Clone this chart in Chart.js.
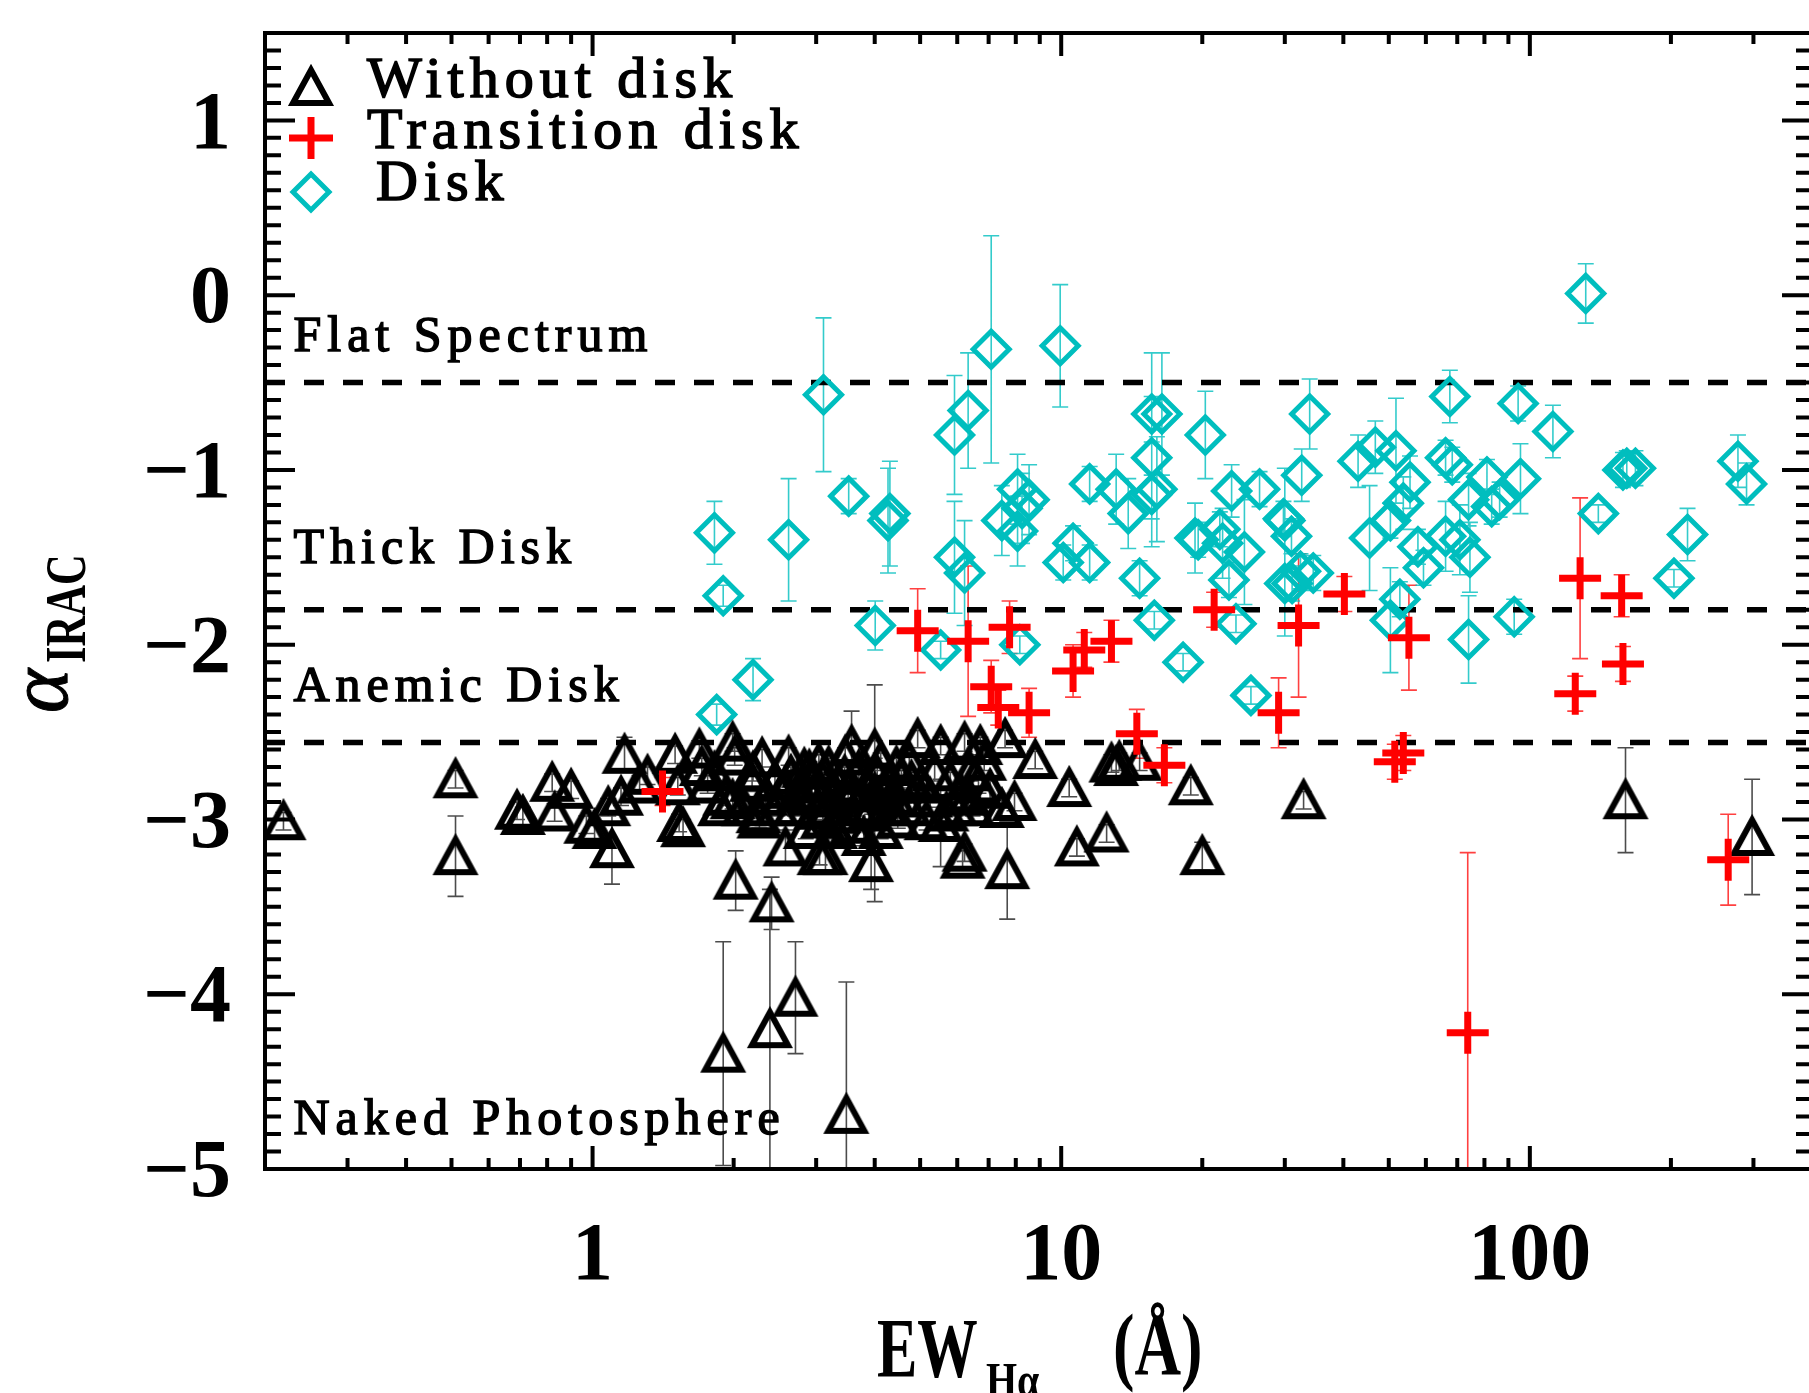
<!DOCTYPE html>
<html>
<head>
<meta charset="utf-8">
<title>alpha IRAC vs EW Halpha</title>
<script src="https://cdn.jsdelivr.net/npm/chart.js@4.4.1/dist/chart.umd.min.js"></script>
<style>
  html, body { margin: 0; padding: 0; background: #fff; }
  #wrap { width: 1809px; height: 1393px; overflow: hidden; position: relative; }
  canvas { display: block; }
</style>
</head>
<body>
<div id="wrap"><canvas id="chart" width="1840" height="1393" style="width:1840px;height:1393px"></canvas></div>
<script>
// Axis ranges and ticks
const xMin = 0.2, xMax = 400;
const yMin = -5, yMax = 1.5;
const xTickValues = [1, 10, 100];
const yTickValues = [-5, -4, -3, -2, -1, 0, 1];

// Class boundaries (alpha_IRAC) and their labels
const classBounds = [-0.5, -1.8, -2.56];
const classNames = ['Flat Spectrum', 'Thick Disk', 'Anemic Disk', 'Naked Photosphere'];
const classNameAlpha = [-0.32, -1.53, -2.32, -4.80];

// Without disk (triangles)
const noDiskEW = [0.219, 0.51, 0.51, 0.69, 0.71, 0.82, 0.90, 0.83, 0.97, 1.01,
  1.10, 1.08, 1.15, 1.17, 1.26, 1.31, 1.53, 1.56, 1.50, 1.52,
  1.69, 1.71, 1.76, 1.82, 1.87, 1.92, 1.99, 2.01, 1.99, 2.02,
  2.10, 2.19, 2.20, 2.26, 2.27, 2.34, 2.41, 1.90, 2.39, 2.71,
  3.48, 2.48, 2.62, 2.58, 2.58, 2.70, 2.83, 2.85, 2.94, 2.94,
  3.04, 3.05, 3.10, 3.14, 3.19, 3.19, 3.29, 3.34, 3.46, 3.51,
  3.57, 3.58, 3.68, 3.79, 3.89, 3.93, 4.00, 4.00, 4.12, 4.12,
  4.24, 4.38, 4.48, 4.56, 4.74, 4.74, 4.79, 4.94, 5.02, 5.16,
  5.25, 5.37, 5.53, 5.53, 5.69, 5.95, 6.16, 6.22, 6.33, 6.22,
  6.40, 6.47, 6.66, 6.72, 6.85, 7.05, 7.47, 7.59, 7.67, 7.95,
  8.80, 10.4, 10.8, 12.5, 12.8, 13.1, 13.3, 14.7, 18.9, 20.0,
  32.9, 160, 298,
  2.65, 2.75, 2.90, 3.00, 3.10, 3.25, 3.35, 3.45, 3.60, 3.70,
  3.85, 3.95, 4.05, 4.30, 4.45, 2.30, 2.45, 5.80, 6.10];
const noDiskAlpha = [-3.01, -2.77, -3.21, -2.95, -2.98, -2.79, -2.83, -2.96, -3.03, -3.06,
  -3.17, -2.93, -2.87, -2.63, -2.80, -2.75, -3.02, -3.05, -2.63, -2.81,
  -2.60, -2.70, -2.80, -2.73, -2.93, -2.87, -2.56, -2.64, -2.89, -3.35,
  -2.93, -2.79, -2.73, -2.97, -3.00, -2.87, -3.48, -4.34, -4.20, -4.02,
  -4.69, -2.93, -2.64, -2.83, -3.16, -2.93, -2.71, -3.06, -2.87, -2.80,
  -2.68, -3.21, -3.00, -3.21, -2.93, -2.70, -3.06, -2.80, -2.64, -2.83,
  -2.58, -3.03, -2.93, -3.10, -2.96, -3.25, -2.60, -2.85, -2.67, -3.06,
  -2.93, -2.87, -3.00, -2.77, -2.67, -2.93, -2.78, -2.54, -2.80, -3.01,
  -2.88, -2.73, -2.58, -3.02, -2.96, -2.93, -3.23, -2.56, -2.87, -3.19,
  -2.73, -2.93, -2.80, -2.58, -2.67, -2.83, -2.94, -2.54, -3.29, -2.90,
  -2.66, -2.82, -3.16, -3.08, -2.68, -2.70, -2.67, -2.67, -2.81, -3.21,
  -2.89, -2.89, -3.10,
  -2.75, -2.85, -2.72, -2.95, -2.78, -2.88, -2.97, -2.75, -2.85, -2.72,
  -2.82, -2.92, -2.75, -2.80, -2.70, -2.65, -2.78, -2.78, -2.85];
const noDiskErr = [0.05, 0.05, 0.23, 0.05, 0.05, 0.05, 0.05, 0.05, 0.05, 0.05,
  0.20, 0.05, 0.05, 0.10, 0.05, 0.05, 0.05, 0.05, 0.05, 0.05,
  0.05, 0.05, 0.05, 0.05, 0.05, 0.05, 0.05, 0.05, 0.05, 0.17,
  0.05, 0.05, 0.05, 0.05, 0.05, 0.05, 0.15, 0.64, 0.80, 0.32,
  0.76, 0.05, 0.05, 0.05, 0.10, 0.05, 0.05, 0.05, 0.05, 0.05,
  0.05, 0.05, 0.05, 0.10, 0.05, 0.05, 0.05, 0.05, 0.05, 0.05,
  0.20, 0.05, 0.05, 0.05, 0.05, 0.15, 0.05, 0.62, 0.05, 0.05,
  0.05, 0.05, 0.05, 0.05, 0.05, 0.05, 0.05, 0.05, 0.05, 0.05,
  0.05, 0.05, 0.05, 0.25, 0.05, 0.05, 0.05, 0.05, 0.05, 0.05,
  0.05, 0.05, 0.05, 0.05, 0.05, 0.05, 0.05, 0.05, 0.28, 0.05,
  0.05, 0.05, 0.05, 0.05, 0.05, 0.05, 0.05, 0.05, 0.05, 0.08,
  0.05, 0.30, 0.33,
  0.05, 0.05, 0.05, 0.05, 0.05, 0.05, 0.05, 0.05, 0.05, 0.05,
  0.05, 0.05, 0.05, 0.05, 0.05, 0.05, 0.05, 0.05, 0.05];

// Transition disk (red crosses)
const transEW = [1.41, 4.94, 6.33, 7.76, 7.09, 7.34, 8.54, 10.6, 11.2, 12.8,
  21.2, 14.5, 16.6, 29.1, 32.1, 40.2, 55.2, 51.5, 53.7, 73.7,
  128, 157, 125, 158, 265];
const transAlpha = [-2.84, -1.92, -1.98, -1.90, -2.24, -2.36, -2.39, -2.15, -2.03, -1.98,
  -1.80, -2.51, -2.69, -2.39, -1.89, -1.71, -1.96, -2.67, -2.62, -4.22,
  -1.62, -1.72, -2.28, -2.11, -3.23];
const transErr = [0.08, 0.24, 0.43, 0.15, 0.15, 0.10, 0.14, 0.15, 0.10, 0.12,
  0.10, 0.14, 0.10, 0.20, 0.41, 0.10, 0.30, 0.10, 0.10, 1.03,
  0.46, 0.12, 0.10, 0.10, 0.26];

// Disk (cyan diamonds)
const diskEW = [1.82, 1.90, 1.84, 2.20, 2.62, 3.11, 3.52, 4.01, 4.31, 4.27,
  5.53, 5.92, 5.92, 6.33, 6.22, 7.09, 7.47, 8.07, 8.54, 8.25,
  8.07, 8.16, 9.95, 10.1, 10.6, 11.5, 11.5, 13.1, 13.9, 14.7,
  15.6, 16.4, 15.6, 15.6, 16.0, 15.8, 18.2, 20.3, 19.3, 22.1,
  23.1, 24.6, 22.8, 23.6, 26.5, 30.0, 30.0, 25.4, 21.8, 19.6,
  31.0, 29.8, 32.6, 33.9, 31.1, 34.5, 32.4, 43.0, 46.8, 51.8,
  55.5, 53.7, 50.4, 45.5, 57.7, 59.3, 50.4, 52.8, 66.1, 68.3,
  67.5, 74.0, 66.1, 70.9, 74.5, 74.0, 81.0, 86.2, 82.9, 95.5,
  94.4, 92.6, 112, 131.6, 140, 158, 161, 168, 203, 217,
  278, 290];
const diskAlpha = [-1.36, -1.72, -2.40, -2.20, -1.40, -0.57, -1.15, -1.89, -1.25, -1.29,
  -2.03, -0.80, -1.50, -0.66, -1.59, -0.31, -1.29, -1.11, -1.17, -1.22,
  -1.35, -2.00, -0.29, -1.53, -1.42, -1.53, -1.08, -1.11, -1.25, -1.62,
  -0.68, -0.68, -0.93, -1.14, -1.11, -1.86, -2.10, -0.80, -1.39, -1.42,
  -1.12, -1.47, -1.63, -1.88, -1.11, -1.29, -1.65, -2.29, -1.34, -1.40,
  -1.38, -1.28, -1.03, -0.68, -1.65, -1.59, -1.58, -0.95, -0.87, -0.89,
  -1.07, -1.19, -1.29, -1.39, -1.44, -1.56, -1.86, -1.74, -0.93, -0.97,
  -0.58, -1.17, -1.38, -1.40, -1.50, -1.97, -1.04, -1.17, -1.21, -1.05,
  -0.62, -1.84, -0.78, 0.01, -1.25, -1.00, -0.99, -0.99, -1.62, -1.37,
  -0.95, -1.08];
const diskErr = [0.18, 0.06, 0.06, 0.12, 0.35, 0.44, 0.10, 0.14, 0.30, 0.30,
  0.05, 0.34, 0.32, 0.33, 0.30, 0.65, 0.20, 0.20, 0.20, 0.20,
  0.20, 0.05, 0.35, 0.10, 0.10, 0.10, 0.10, 0.20, 0.20, 0.10,
  0.35, 0.35, 0.35, 0.30, 0.30, 0.05, 0.05, 0.25, 0.20, 0.20,
  0.15, 0.30, 0.10, 0.05, 0.10, 0.30, 0.30, 0.05, 0.10, 0.10,
  0.10, 0.10, 0.15, 0.20, 0.10, 0.10, 0.10, 0.15, 0.15, 0.30,
  0.15, 0.15, 0.10, 0.30, 0.10, 0.10, 0.30, 0.10, 0.10, 0.10,
  0.15, 0.15, 0.20, 0.20, 0.20, 0.25, 0.10, 0.10, 0.10, 0.20,
  0.10, 0.10, 0.15, 0.17, 0.05, 0.10, 0.10, 0.10, 0.05, 0.15,
  0.15, 0.12];

const CYAN = '#00bebe';
const RED = '#ff0000';
const SERIF = "'Liberation Serif', 'DejaVu Serif', serif";

function toPoints(xs, ys) {
    return xs.map((x, i) => ({ x: x, y: ys[i] }));
}

// IDL-like triangle: width equal to height, centred on the data point
function makeTriangle() {
    const c = document.createElement('canvas');
    c.width = 48; c.height = 48;
    const g = c.getContext('2d');
    g.strokeStyle = '#000';
    g.lineWidth = 6;
    g.lineJoin = 'miter';
    g.beginPath();
    g.moveTo(24, 7);
    g.lineTo(42, 40);
    g.lineTo(6, 40);
    g.closePath();
    g.stroke();
    return c;
}
const triangleImg = makeTriangle();

function drawText(ctx, str, x, y, font, spacing, sx, stroke) {
    ctx.save();
    ctx.font = font;
    ctx.fillStyle = '#000';
    ctx.strokeStyle = '#000';
    ctx.letterSpacing = (spacing || 0) + 'px';
    ctx.textBaseline = 'alphabetic';
    ctx.translate(x, y);
    ctx.scale(sx || 1, 1);
    ctx.fillText(str, 0, 0);
    if (stroke) {
        ctx.lineWidth = stroke;
        ctx.strokeText(str, 0, 0);
    }
    ctx.restore();
}

// Error bars drawn under the symbols
const errorBars = {
    id: 'errorBars',
    beforeDatasetsDraw(chart) {
        const ctx = chart.ctx;
        const xs = chart.scales.x, ys = chart.scales.y;
        const ca = chart.chartArea;
        ctx.save();
        ctx.beginPath();
        ctx.rect(ca.left, ca.top, ca.right - ca.left, ca.bottom - ca.top);
        ctx.clip();
        chart.data.datasets.forEach(ds => {
            if (!ds.errors) return;
            ctx.strokeStyle = ds.errorColor;
            ctx.lineWidth = 1.6;
            ctx.beginPath();
            ds.data.forEach((p, i) => {
                const e = ds.errors[i];
                const px = xs.getPixelForValue(p.x);
                const top = ys.getPixelForValue(p.y + e);
                const bot = ys.getPixelForValue(p.y - e);
                ctx.moveTo(px, top); ctx.lineTo(px, bot);
                ctx.moveTo(px - 8, top); ctx.lineTo(px + 8, top);
                ctx.moveTo(px - 8, bot); ctx.lineTo(px + 8, bot);
            });
            ctx.stroke();
        });
        ctx.restore();
    }
};

// Frame, inward ticks, region names, legend and axis titles
const decorations = {
    id: 'decorations',
    afterDraw(chart) {
        const ctx = chart.ctx;
        const xs = chart.scales.x, ys = chart.scales.y;
        const ca = chart.chartArea;

        ctx.save();
        ctx.strokeStyle = '#000';
        ctx.lineCap = 'butt';
        ctx.lineWidth = 4;
        ctx.strokeRect(ca.left, ca.top, ca.right - ca.left, ca.bottom - ca.top);

        // y ticks, every 0.1
        ctx.beginPath();
        for (let k = Math.round(yMin * 10); k <= Math.round(yMax * 10); k++) {
            const py = ys.getPixelForValue(k / 10);
            const len = k % 10 === 0 ? 30 : 16;
            ctx.moveTo(ca.left, py); ctx.lineTo(ca.left + len, py);
            ctx.moveTo(ca.right, py); ctx.lineTo(ca.right - len, py);
        }
        ctx.stroke();

        // x ticks, log minor ticks
        ctx.beginPath();
        [0.1, 1, 10, 100].forEach(d => {
            for (let m = 1; m <= 9; m++) {
                const v = m * d;
                if (v < xMin || v > xMax) continue;
                const px = xs.getPixelForValue(v);
                const len = m === 1 ? 23 : 11;
                ctx.moveTo(px, ca.bottom); ctx.lineTo(px, ca.bottom - len);
                ctx.moveTo(px, ca.top); ctx.lineTo(px, ca.top + len);
            }
        });
        ctx.stroke();
        ctx.restore();

        // region names
        const labelX = xs.getPixelForValue(0.23);
        classNames.forEach((name, i) => {
            drawText(ctx, name, labelX, ys.getPixelForValue(classNameAlpha[i]),
                '50px ' + SERIF, 6, 1, 1.5);
        });

        // legend
        const lx = ca.left + 46;
        ctx.drawImage(triangleImg, lx - 24, ca.top + 54 - 24);
        drawText(ctx, 'Without disk', ca.left + 102, ca.top + 64, '58px ' + SERIF, 6, 1, 1.6);

        ctx.save();
        ctx.strokeStyle = RED;
        ctx.lineWidth = 7;
        ctx.beginPath();
        ctx.moveTo(lx - 22, ca.top + 105); ctx.lineTo(lx + 22, ca.top + 105);
        ctx.moveTo(lx, ca.top + 84); ctx.lineTo(lx, ca.top + 126);
        ctx.stroke();
        ctx.restore();
        drawText(ctx, 'Transition disk', ca.left + 102, ca.top + 115, '58px ' + SERIF, 6, 1, 1.6);

        ctx.save();
        ctx.strokeStyle = CYAN;
        ctx.lineWidth = 5;
        ctx.beginPath();
        const dy = ca.top + 159;
        ctx.moveTo(lx, dy - 18); ctx.lineTo(lx + 18, dy);
        ctx.lineTo(lx, dy + 18); ctx.lineTo(lx - 18, dy);
        ctx.closePath();
        ctx.stroke();
        ctx.restore();
        drawText(ctx, 'Disk', ca.left + 111, ca.top + 167, '58px ' + SERIF, 6, 1, 1.6);

        // x axis title: EW_Ha (A)
        drawText(ctx, 'EW', 877, 1377, 'bold 84px ' + SERIF, 0, 0.72);
        drawText(ctx, 'H\u03b1', 986, 1397, 'bold 50px ' + SERIF, 0, 0.8);
        drawText(ctx, '(\u00c5)', 1113, 1374, 'bold 86px ' + SERIF, 0, 0.75);

        // y axis title: alpha_IRAC, rotated
        ctx.save();
        ctx.translate(67, 713);
        ctx.rotate(-Math.PI / 2);
        drawText(ctx, '\u03b1', 0, 0, 'italic 84px ' + SERIF, 0, 1, 1);
        ctx.restore();
        ctx.save();
        ctx.translate(85, 663);
        ctx.rotate(-Math.PI / 2);
        drawText(ctx, 'IRAC', 0, 0, 'bold 56px ' + SERIF, 0, 0.76);
        ctx.restore();
    }
};

const tickFont = { family: SERIF, size: 82, weight: 'bold' };

const boundaryDatasets = classBounds.map(b => ({
    type: 'line',
    data: [{ x: xMin, y: b }, { x: xMax, y: b }],
    showLine: true,
    borderColor: '#000',
    borderWidth: 5.5,
    borderDash: [20, 19],
    pointRadius: 0,
    order: 10
}));

const ctx = document.getElementById('chart').getContext('2d');
new Chart(ctx, {
    type: 'scatter',
    data: {
        datasets: [
            {
                label: 'Transition disk',
                data: toPoints(transEW, transAlpha),
                errors: transErr,
                errorColor: 'rgba(255,0,0,0.75)',
                pointStyle: 'cross',
                radius: 21,
                borderColor: RED,
                borderWidth: 7,
                order: 1
            },
            {
                label: 'Without disk',
                data: toPoints(noDiskEW, noDiskAlpha),
                errors: noDiskErr,
                errorColor: 'rgba(0,0,0,0.7)',
                pointStyle: triangleImg,
                radius: 20,
                order: 2
            },
            {
                label: 'Disk',
                data: toPoints(diskEW, diskAlpha),
                errors: diskErr,
                errorColor: 'rgba(0,190,190,0.8)',
                pointStyle: 'rectRot',
                radius: 18,
                borderColor: CYAN,
                backgroundColor: 'rgba(0,0,0,0)',
                borderWidth: 5,
                order: 3
            },
            ...boundaryDatasets
        ]
    },
    options: {
        responsive: false,
        animation: false,
        events: [],
        layout: { padding: { top: 33, right: 20, left: 0, bottom: 0 } },
        plugins: {
            legend: { display: false },
            tooltip: { enabled: false }
        },
        scales: {
            x: {
                type: 'logarithmic',
                min: xMin,
                max: xMax,
                grid: { display: false, drawTicks: false },
                border: { display: false },
                afterBuildTicks: s => { s.ticks = xTickValues.map(v => ({ value: v })); },
                afterFit: s => {
                    s.height = 224;
                    s.paddingLeft = 0;
                    s.paddingRight = 0;
                },
                ticks: {
                    font: tickFont,
                    color: '#000',
                    padding: 40,
                    maxRotation: 0,
                    autoSkip: false,
                    callback: v => String(v)
                }
            },
            y: {
                type: 'linear',
                min: yMin,
                max: yMax,
                grid: { display: false, drawTicks: false },
                border: { display: false },
                afterBuildTicks: s => { s.ticks = yTickValues.map(v => ({ value: v })); },
                afterFit: s => {
                    s.width = 265;
                    s.paddingTop = 0;
                    s.paddingBottom = 0;
                },
                ticks: {
                    font: tickFont,
                    color: '#000',
                    padding: 34,
                    labelOffset: 6,
                    callback: v => v < 0 ? '\u2212' + Math.abs(v) : String(v)
                }
            }
        }
    },
    plugins: [errorBars, decorations]
});
</script>
</body>
</html>
